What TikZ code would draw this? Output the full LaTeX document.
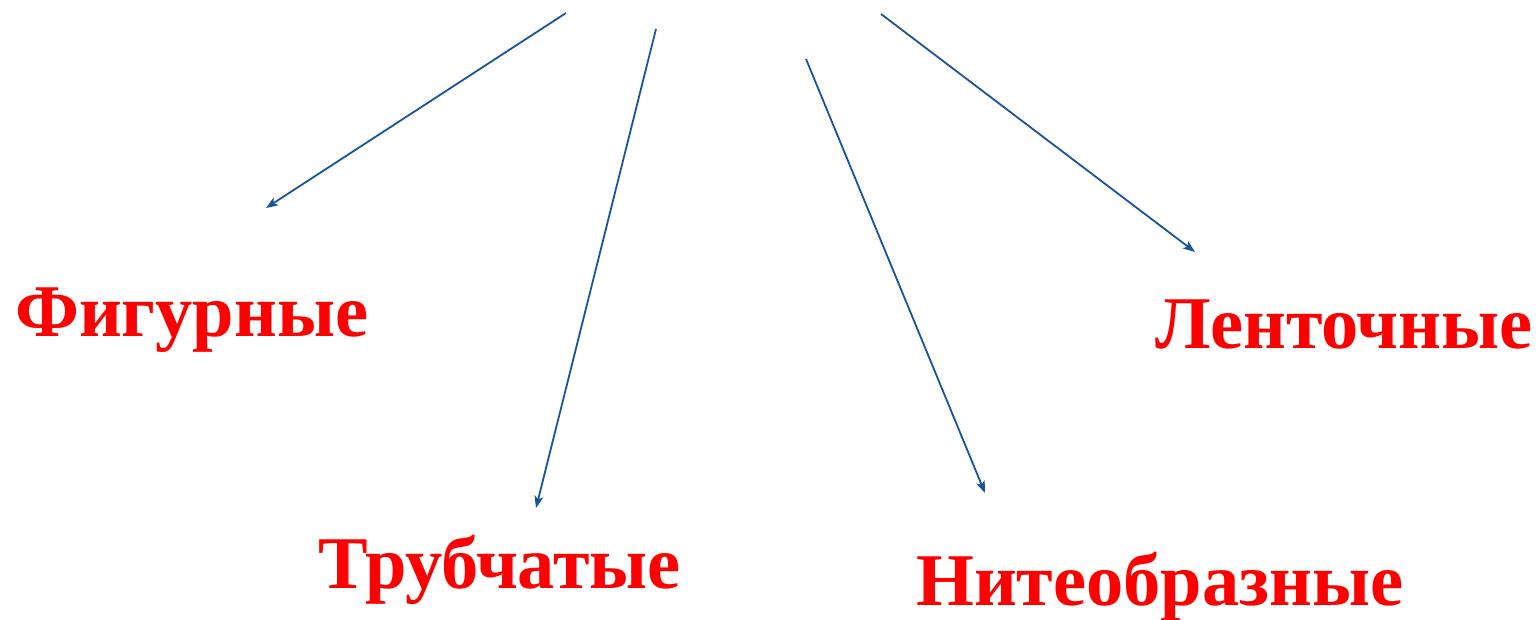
\documentclass[tikz,border=0pt]{standalone}
\usepackage{fontspec}
\setmainfont{Liberation Serif}
\usetikzlibrary{arrows.meta}
\definecolor{arrowblue}{RGB}{24,84,158}
\definecolor{labelred}{RGB}{255,0,0}
\tikzset{
  label/.style={anchor=base west, inner sep=0pt, text=labelred, font=\bfseries\fontsize{74.4}{80}\selectfont},
  conn/.style={draw=arrowblue, line width=1.8pt, -{Stealth[length=12pt,width=9pt,inset=3pt]}}
}
\begin{document}
\begin{tikzpicture}[x=1pt,y=-1pt]
\useasboundingbox (0,0) rectangle (1539,619);
\node[label] (fig) at (15,336) {Фигурные};
\node[label] (trub) at (318,588) {Трубчатые};
\node[label] (nit) at (916,605) {Нитеобразные};
\node[label] (lent) at (1155,348) {Ленточные};
\coordinate (s1) at (566,13);  \coordinate (e1) at (266,208);
\coordinate (s2) at (656,29);  \coordinate (e2) at (536,508);
\coordinate (s3) at (806,59);  \coordinate (e3) at (985,493);
\coordinate (s4) at (881,14);  \coordinate (e4) at (1195,252);
\draw[conn] (s1) -- (e1);
\draw[conn] (s2) -- (e2);
\draw[conn] (s3) -- (e3);
\draw[conn] (s4) -- (e4);
\end{tikzpicture}
\end{document}
